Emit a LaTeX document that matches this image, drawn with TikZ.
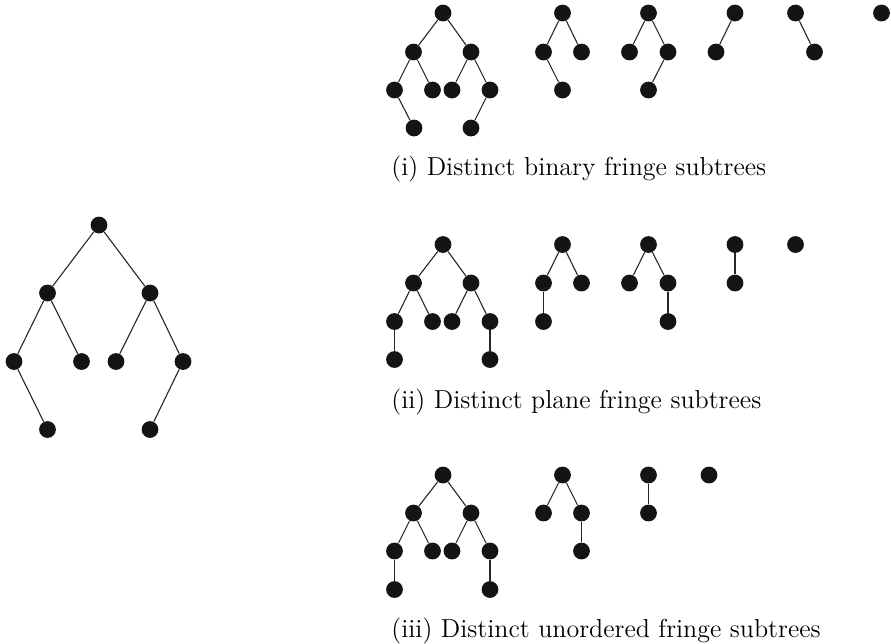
\documentclass[tikz,border=0pt]{standalone}
\usepackage{tikz}

\begin{document}
\begin{tikzpicture}[x=0.5pt, y=-0.5pt,
    dot/.style={circle, fill=black!92, inner sep=0pt, minimum size=8.4pt},
    edge/.style={draw=black!85, line width=0.55pt},
    caption/.style={anchor=base west, inner sep=0pt, font=\fontsize{13}{15}\selectfont}]
\useasboundingbox (0,0) rectangle (891,644);

% full tree
\node[dot] (T0) at (99,225) {};
\node[dot] (T1) at (47.5,293) {};
\node[dot] (T2) at (150,293) {};
\node[dot] (T3) at (14,361.5) {};
\node[dot] (T4) at (81.5,361.5) {};
\node[dot] (T5) at (116,361.5) {};
\node[dot] (T6) at (183,361.5) {};
\node[dot] (T7) at (47.5,429.5) {};
\node[dot] (T8) at (150,429.5) {};
\draw[edge] (T0) -- (T1);
\draw[edge] (T0) -- (T2);
\draw[edge] (T1) -- (T3);
\draw[edge] (T1) -- (T4);
\draw[edge] (T2) -- (T5);
\draw[edge] (T2) -- (T6);
\draw[edge] (T3) -- (T7);
\draw[edge] (T6) -- (T8);

% (i) binary
\node[dot] (B10) at (443,13) {};
\node[dot] (B11) at (413.5,52) {};
\node[dot] (B12) at (471,52) {};
\node[dot] (B13) at (394.5,90) {};
\node[dot] (B14) at (432.5,90) {};
\node[dot] (B15) at (452,90) {};
\node[dot] (B16) at (490,90) {};
\node[dot] (B17) at (414,128) {};
\node[dot] (B18) at (471,128) {};
\draw[edge] (B10) -- (B11);
\draw[edge] (B10) -- (B12);
\draw[edge] (B11) -- (B13);
\draw[edge] (B11) -- (B14);
\draw[edge] (B12) -- (B15);
\draw[edge] (B12) -- (B16);
\draw[edge] (B13) -- (B17);
\draw[edge] (B16) -- (B18);

\node[dot] (B20) at (562.5,13) {};
\node[dot] (B21) at (543.5,52) {};
\node[dot] (B22) at (581.5,52) {};
\node[dot] (B23) at (562.5,90) {};
\draw[edge] (B20) -- (B21);
\draw[edge] (B20) -- (B22);
\draw[edge] (B21) -- (B23);

\node[dot] (B30) at (648.5,13) {};
\node[dot] (B31) at (629.5,52) {};
\node[dot] (B32) at (668,52) {};
\node[dot] (B33) at (648.5,90) {};
\draw[edge] (B30) -- (B31);
\draw[edge] (B30) -- (B32);
\draw[edge] (B32) -- (B33);

\node[dot] (B40) at (735,13) {};
\node[dot] (B41) at (716,52) {};
\draw[edge] (B40) -- (B41);

\node[dot] (B50) at (795.5,13) {};
\node[dot] (B51) at (814.5,52) {};
\draw[edge] (B50) -- (B51);

\node[dot] (B60) at (881.5,13) {};

\node[caption] (capB) at (391,175) {(i) Distinct binary fringe subtrees};

% (ii) plane
\node[dot] (P10) at (443,244.5) {};
\node[dot] (P11) at (413.5,283) {};
\node[dot] (P12) at (471,283) {};
\node[dot] (P13) at (394.5,321.5) {};
\node[dot] (P14) at (432.5,321.5) {};
\node[dot] (P15) at (452,321.5) {};
\node[dot] (P16) at (490,321.5) {};
\node[dot] (P17) at (394.5,359.5) {};
\node[dot] (P18) at (490,359.5) {};
\draw[edge] (P10) -- (P11);
\draw[edge] (P10) -- (P12);
\draw[edge] (P11) -- (P13);
\draw[edge] (P11) -- (P14);
\draw[edge] (P12) -- (P15);
\draw[edge] (P12) -- (P16);
\draw[edge] (P13) -- (P17);
\draw[edge] (P16) -- (P18);

\node[dot] (P20) at (562.5,244.5) {};
\node[dot] (P21) at (543.5,283) {};
\node[dot] (P22) at (581.5,283) {};
\node[dot] (P23) at (543.5,321.5) {};
\draw[edge] (P20) -- (P21);
\draw[edge] (P20) -- (P22);
\draw[edge] (P21) -- (P23);

\node[dot] (P30) at (648.5,244.5) {};
\node[dot] (P31) at (629.5,283) {};
\node[dot] (P32) at (668,283) {};
\node[dot] (P33) at (668,321.5) {};
\draw[edge] (P30) -- (P31);
\draw[edge] (P30) -- (P32);
\draw[edge] (P32) -- (P33);

\node[dot] (P40) at (735,244.5) {};
\node[dot] (P41) at (735,283) {};
\draw[edge] (P40) -- (P41);

\node[dot] (P50) at (795.5,244.5) {};

\node[caption] (capP) at (391,408) {(ii) Distinct plane fringe subtrees};

% (iii) unordered
\node[dot] (U10) at (443,475) {};
\node[dot] (U11) at (413.5,513) {};
\node[dot] (U12) at (471,513) {};
\node[dot] (U13) at (394.5,551) {};
\node[dot] (U14) at (432.5,551) {};
\node[dot] (U15) at (452,551) {};
\node[dot] (U16) at (490,551) {};
\node[dot] (U17) at (394.5,589.5) {};
\node[dot] (U18) at (490,589.5) {};
\draw[edge] (U10) -- (U11);
\draw[edge] (U10) -- (U12);
\draw[edge] (U11) -- (U13);
\draw[edge] (U11) -- (U14);
\draw[edge] (U12) -- (U15);
\draw[edge] (U12) -- (U16);
\draw[edge] (U13) -- (U17);
\draw[edge] (U16) -- (U18);

\node[dot] (U20) at (562.5,475) {};
\node[dot] (U21) at (543.5,513) {};
\node[dot] (U22) at (581.5,513) {};
\node[dot] (U23) at (581.5,551) {};
\draw[edge] (U20) -- (U21);
\draw[edge] (U20) -- (U22);
\draw[edge] (U22) -- (U23);

\node[dot] (U30) at (648.5,475) {};
\node[dot] (U31) at (648.5,513) {};
\draw[edge] (U30) -- (U31);

\node[dot] (U40) at (709,475) {};

\node[caption] (capU) at (391,637) {(iii) Distinct unordered fringe subtrees};
\end{tikzpicture}
\end{document}
